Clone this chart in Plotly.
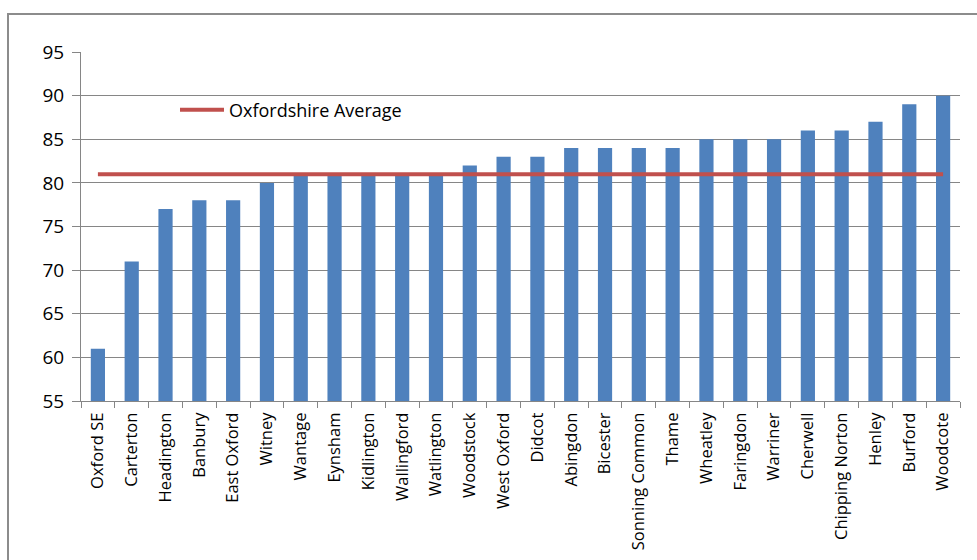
import plotly.graph_objects as go

categories = ["Oxford SE", "Carterton", "Headington", "Banbury", "East Oxford", "Witney",
              "Wantage", "Eynsham", "Kidlington", "Wallingford", "Watlington", "Woodstock",
              "West Oxford", "Didcot", "Abingdon", "Bicester", "Sonning Common", "Thame",
              "Wheatley", "Faringdon", "Warriner", "Cherwell", "Chipping Norton", "Henley",
              "Burford", "Woodcote"]
values = [61, 71, 77, 78, 78, 80, 81, 81, 81, 81, 81, 82, 83, 83, 84, 84, 84, 84,
          85, 85, 85, 86, 86, 87, 89, 90]
average = [81] * len(categories)
y_ticks = [55, 60, 65, 70, 75, 80, 85, 90, 95]

FONT = "Open Sans"

fig = go.Figure()
fig.add_trace(go.Bar(x=categories, y=values, marker=dict(color="#4F81BD", line=dict(width=0)),
                     showlegend=False, width=0.42))
fig.add_trace(go.Scatter(x=categories, y=average, mode="lines", name="Oxfordshire Average",
                         line=dict(color="#C0504D", width=4)))

fig.update_layout(
    width=977, height=560,
    margin=dict(l=81, r=17, t=52, b=159),
    paper_bgcolor="white", plot_bgcolor="white",
    font=dict(family=FONT, color="#000000"),
    bargap=0.58,
    legend=dict(x=(175 - 81) / 879, y=(401 - 110) / 349, xanchor="left", yanchor="middle",
                itemwidth=44,
                bgcolor="rgba(0,0,0,0)", font=dict(size=18, family=FONT)),
    shapes=[dict(type="rect", xref="paper", yref="paper",
                 x0=-73 / 879, x1=1.1, y0=-0.6, y1=(401 - 14) / 349,
                 line=dict(color="#8C8C8C", width=2), layer="below")],
)
fig.update_xaxes(
    type="category", tickangle=-90, tickfont=dict(size=16.5, family=FONT),
    showline=True, linecolor="#868686", linewidth=1,
    ticks="outside", tickson="boundaries", ticklen=6, tickcolor="#868686",
    ticklabelstandoff=4, automargin=False,
    showgrid=False, range=[-0.5, len(categories) - 0.5],
)
fig.update_yaxes(
    range=[55, 95], tickvals=y_ticks, tickfont=dict(size=19, family=FONT),
    showline=True, linecolor="#868686", linewidth=1,
    ticks="outside", ticklen=8, tickcolor="#868686",
    ticklabelstandoff=4, automargin=False,
    showgrid=True, gridcolor="#868686", gridwidth=1, zeroline=False,
)

fig.write_html("out.html")
